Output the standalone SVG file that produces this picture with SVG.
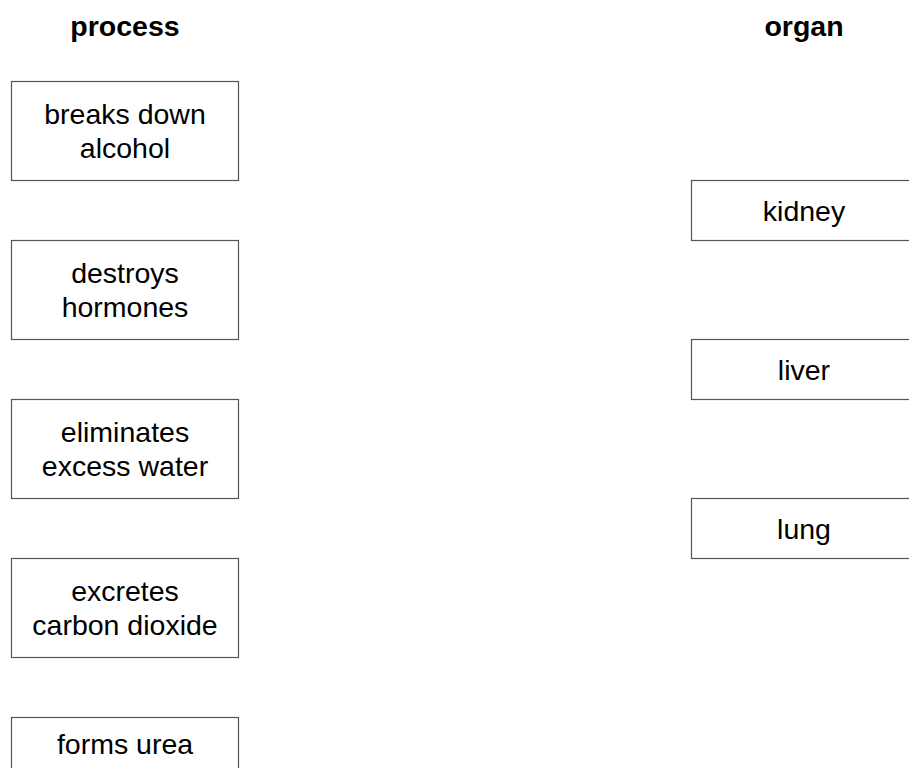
<svg xmlns="http://www.w3.org/2000/svg" width="909" height="768" viewBox="0 0 909 768">
<style>
  .box { fill: #ffffff; stroke: #555555; stroke-width: 1.2; }
  .t { font-family: "Liberation Sans", Arial, sans-serif; font-size: 28.5px; fill: #000000; text-anchor: middle; }
  .h { font-family: "Liberation Sans", Arial, sans-serif; font-size: 28.5px; font-weight: bold; fill: #000000; text-anchor: middle; }
</style>
<rect x="0" y="0" width="909" height="768" fill="#ffffff"/>
<g id="headers">
  <text class="h" x="125" y="36">process</text>
  <text class="h" x="804" y="36">organ</text>
</g>
<g id="p1">
  <rect class="box" x="11.5" y="81.5" width="227" height="99"/>
  <text class="t" x="125" y="123.5">breaks down</text>
  <text class="t" x="125" y="157.5">alcohol</text>
</g>
<g id="p2">
  <rect class="box" x="11.5" y="240.5" width="227" height="99"/>
  <text class="t" x="125" y="283">destroys</text>
  <text class="t" x="125" y="317">hormones</text>
</g>
<g id="p3">
  <rect class="box" x="11.5" y="399.5" width="227" height="99"/>
  <text class="t" x="125" y="442">eliminates</text>
  <text class="t" x="125" y="475.5">excess water</text>
</g>
<g id="p4">
  <rect class="box" x="11.5" y="558.5" width="227" height="99"/>
  <text class="t" x="125" y="600.5">excretes</text>
  <text class="t" x="125" y="634.5">carbon dioxide</text>
</g>
<g id="p5">
  <rect class="box" x="11.5" y="717.5" width="227" height="99"/>
  <text class="t" x="125" y="754">forms urea</text>
</g>
<g id="o1">
  <rect class="box" x="691.5" y="180.5" width="226" height="60"/>
  <text class="t" x="804" y="220.5">kidney</text>
</g>
<g id="o2">
  <rect class="box" x="691.5" y="339.5" width="226" height="60"/>
  <text class="t" x="804" y="379.5">liver</text>
</g>
<g id="o3">
  <rect class="box" x="691.5" y="498.5" width="226" height="60"/>
  <text class="t" x="804" y="538.5">lung</text>
</g>
<g id="connectors"></g>
</svg>
